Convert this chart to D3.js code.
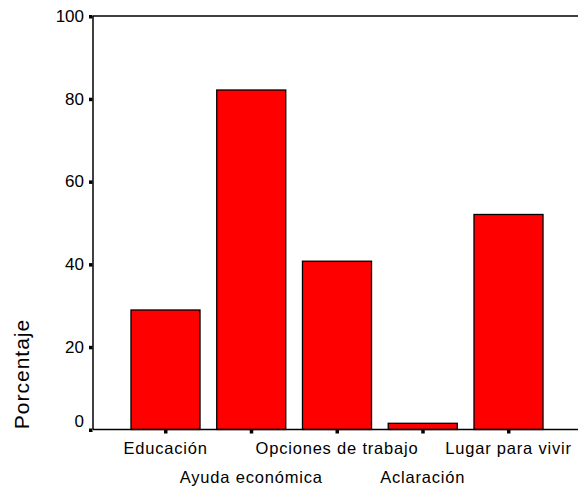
<!DOCTYPE html>
<html><head><meta charset="utf-8">
<script src="https://cdn.jsdelivr.net/npm/d3@7"></script>
<style>body{margin:0;background:#fff}text{font-family:"Liberation Sans",Arial,sans-serif;fill:#000}</style>
</head><body>
<svg id="c" width="578" height="488"></svg>
<script>
const categories = ["Educación","Ayuda económica","Opciones de trabajo","Aclaración","Lugar para vivir"];
const values = [28.9, 82.1, 40.7, 1.5, 52.0];
const yTicks = [0,20,40,60,80,100];
const yTitle = "Porcentaje";

(function(){
const svg = d3.select("#c");
const pl = 93, pr = 578, pt = 16, pb = 429.5;
const y = d3.scaleLinear().domain([0,100]).range([pb, pt]);
const step = 85.75;
const x = d3.scaleBand().domain(categories)
  .range([165.5 - step/2, 165.5 - step/2 + step*categories.length])
  .paddingInner(0.195).paddingOuter(0.0975);

// bars
svg.append("g").selectAll("rect").data(values).join("rect")
  .attr("x", (d,i)=>x(categories[i]))
  .attr("width", x.bandwidth())
  .attr("y", d=>y(d))
  .attr("height", d=>pb - y(d))
  .attr("fill","#ff0000").attr("stroke","#000").attr("stroke-width",1.3);

// frame lines
svg.append("line").attr("x1",pl).attr("x2",pr).attr("y1",pt).attr("y2",pt).attr("stroke","#000").attr("stroke-width",1.5);
svg.append("line").attr("x1",pl).attr("x2",pr).attr("y1",pb).attr("y2",pb).attr("stroke","#000").attr("stroke-width",1.5);
svg.append("line").attr("x1",pl).attr("x2",pl).attr("y1",pt).attr("y2",pb).attr("stroke","#000").attr("stroke-width",1.5);

// y axis
const yAxis = svg.append("g").attr("transform",`translate(${pl},0)`)
  .call(d3.axisLeft(y).tickValues(yTicks).tickSize(0).tickPadding(9).tickFormat(d3.format("d")));
yAxis.select(".domain").remove();
yAxis.selectAll("text").style("font-size","17px").attr("dy","0.32em");
yAxis.selectAll(".tick").filter(d=>d===0).select("text").attr("dy","-0.15em");
yAxis.selectAll(".tick").append("rect").attr("x",-4).attr("y",-1.5).attr("width",3.5).attr("height",3.5).attr("fill","#000");

// x axis
const xAxis = svg.append("g").attr("transform",`translate(0,${pb})`)
  .call(d3.axisBottom(x).tickSize(0).tickPadding(0));
xAxis.select(".domain").remove();
xAxis.selectAll(".tick").append("rect").attr("x",-1.5).attr("y",0.5).attr("width",3.5).attr("height",3.5).attr("fill","#000");
xAxis.selectAll(".tick text").style("font-size","16.5px").style("letter-spacing","0.8px")
  .attr("dy",null).attr("y",(d,i)=> i%2===0 ? 24.5 : 53.5);

// y title
svg.append("text").attr("transform","translate(29,374) rotate(-90)")
  .attr("text-anchor","middle").style("font-size","21px").style("letter-spacing","1px").text(yTitle);
})();
</script>
</body></html>
